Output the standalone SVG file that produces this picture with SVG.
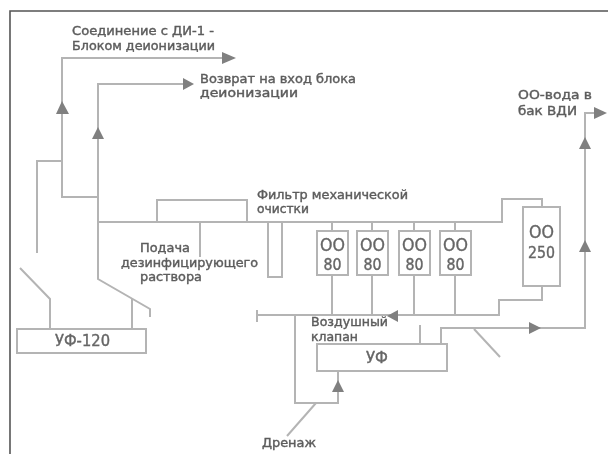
<svg xmlns="http://www.w3.org/2000/svg" width="608" height="454" viewBox="0 0 608 454">
<style>
.l{fill:none;stroke:#b4b4b4;stroke-width:2}
.b{fill:#fff;stroke:#b4b4b4;stroke-width:2}
.a{fill:#808080}
.f{fill:none;stroke:#555;stroke-width:1.6}
text{font-family:"DejaVu Sans","Liberation Sans",sans-serif;font-size:12px;font-weight:400;fill:#5c5c5c;stroke:#5c5c5c;stroke-width:.4}
.m{font-size:15px;fill:#666;stroke:#666;text-anchor:middle}
.o{font-size:18px}
</style>
<defs><filter id="s" x="-5%" y="-5%" width="110%" height="110%"><feGaussianBlur stdDeviation="0.45"/></filter></defs>
<rect width="608" height="454" fill="#fff"/>
<g filter="url(#s)">
<path id="frame" class="f" d="M10 454V11H608"/>
<g id="connectors">
<path class="l" d="M98 197H62V58H224"/>
<path class="l" d="M62 161H37V253"/>
<path class="l" d="M20 268L50 299V329"/>
<path class="l" d="M183 84H98V279L150 309V317"/>
<path class="l" d="M132 298V329"/>
<path class="l" d="M98 222H502V199H542V207"/>
<path class="l" d="M157 222V200H247V222"/>
<path class="l" d="M200 222V257"/>
<path class="l" d="M268 222V277H282V222"/>
<path class="l" d="M332 222V231M372 222V231M414 222V231M455 222V231"/>
<path class="l" d="M332 275V315M372 275V315M414 275V315M455 275V315"/>
<path class="l" d="M542 286V300H499V315H257M257 310V322"/>
<path class="l" d="M295 315V403H338V371"/>
<path class="l" d="M316 403L287 436"/>
<path class="l" d="M420 325V344"/>
<path class="l" d="M441 344V328H585V113H596"/>
<path class="l" d="M474 329L500 357"/>
<path class="a" d="M236 58L222 52V64Z"/>
<path class="a" d="M194 84L183 78V90Z"/>
<path class="a" d="M62 101L56 114H69Z"/>
<path class="a" d="M98 127L92 139H104Z"/>
<path class="a" d="M607 113L594 107V119Z"/>
<path class="a" d="M585 137L579 149H591Z"/>
<path class="a" d="M585 240L579 252H591Z"/>
<path class="a" d="M541 328L529 322V334Z"/>
<path class="a" d="M387 316L398 310V322Z"/>
<path class="a" d="M338 380L332 392H344Z"/>
</g>
<g id="uf120"><rect class="b" x="17" y="329" width="129" height="24"/><text class="m" x="82.500" y="346" textLength="55" lengthAdjust="spacingAndGlyphs">УФ-120</text></g>
<g id="uf"><rect class="b" x="317" y="344" width="130" height="27"/><text class="m" x="377" y="363" textLength="22" lengthAdjust="spacingAndGlyphs">УФ</text></g>
<g id="oo1"><rect class="b" x="317" y="231" width="31" height="44"/><text class="m o" x="332.500" y="251" textLength="25" lengthAdjust="spacingAndGlyphs">ОО</text><text class="m" x="332.500" y="270" textLength="18" lengthAdjust="spacingAndGlyphs">80</text></g>
<g id="oo2"><rect class="b" x="357" y="231" width="31" height="44"/><text class="m o" x="372.500" y="251" textLength="25" lengthAdjust="spacingAndGlyphs">ОО</text><text class="m" x="372.500" y="270" textLength="18" lengthAdjust="spacingAndGlyphs">80</text></g>
<g id="oo3"><rect class="b" x="399" y="231" width="31" height="44"/><text class="m o" x="414.500" y="251" textLength="25" lengthAdjust="spacingAndGlyphs">ОО</text><text class="m" x="414.500" y="270" textLength="18" lengthAdjust="spacingAndGlyphs">80</text></g>
<g id="oo4"><rect class="b" x="440" y="231" width="31" height="44"/><text class="m o" x="455.500" y="251" textLength="25" lengthAdjust="spacingAndGlyphs">ОО</text><text class="m" x="455.500" y="270" textLength="18" lengthAdjust="spacingAndGlyphs">80</text></g>
<g id="oo250"><rect class="b" x="523" y="207" width="37" height="79"/><text class="m o" x="541.500" y="238" textLength="25" lengthAdjust="spacingAndGlyphs">ОО</text><text class="m" x="541.500" y="258" textLength="27" lengthAdjust="spacingAndGlyphs">250</text></g>
<g id="labels">
<text x="72" y="35" textLength="142" lengthAdjust="spacingAndGlyphs">Соединение с ДИ-1 -</text>
<text x="72" y="50" textLength="143" lengthAdjust="spacingAndGlyphs">Блоком деионизации</text>
<text x="200" y="83" textLength="156" lengthAdjust="spacingAndGlyphs">Возврат на вход блока</text>
<text x="200" y="97" textLength="98" lengthAdjust="spacingAndGlyphs">деионизации</text>
<text x="518" y="99" textLength="74" lengthAdjust="spacingAndGlyphs">ОО-вода в</text>
<text x="518" y="115" textLength="59" lengthAdjust="spacingAndGlyphs">бак ВДИ</text>
<text x="257" y="199" textLength="151" lengthAdjust="spacingAndGlyphs">Фильтр механической</text>
<text x="257" y="213" textLength="52" lengthAdjust="spacingAndGlyphs">очистки</text>
<text x="140" y="252" textLength="50" lengthAdjust="spacingAndGlyphs">Подача</text>
<text x="121" y="267" textLength="137" lengthAdjust="spacingAndGlyphs">дезинфицирующего</text>
<text x="140" y="281" textLength="62" lengthAdjust="spacingAndGlyphs">раствора</text>
<text x="311" y="326" textLength="77" lengthAdjust="spacingAndGlyphs">Воздушный</text>
<text x="311" y="341" textLength="47" lengthAdjust="spacingAndGlyphs">клапан</text>
<text x="262" y="447" textLength="54" lengthAdjust="spacingAndGlyphs">Дренаж</text>
</g>
</g>
</svg>
